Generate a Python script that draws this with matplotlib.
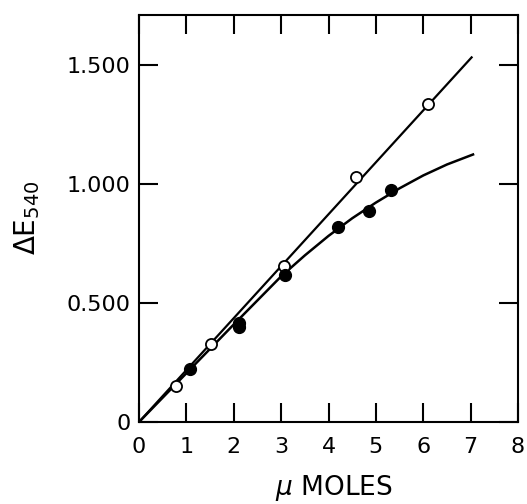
import matplotlib.pyplot as plt
import numpy as np

# open circles
x_open = [0.78, 1.52, 3.06, 4.59, 6.10]
y_open = [0.153, 0.328, 0.657, 1.031, 1.336]

# filled circles
x_fill = [1.08, 2.10, 2.12, 3.08, 4.19, 4.86, 5.32]
y_fill = [0.221, 0.400, 0.418, 0.618, 0.820, 0.887, 0.975]

# straight line through open circles
x_line = [0, 7.02]
y_line = [0, 1.532]

# curve through filled circles
x_curve = [0, 1.0, 2.0, 3.0, 3.5, 4.0, 4.5, 5.0, 5.5, 6.0, 6.5, 7.05]
y_curve = [0, 0.205, 0.41, 0.612, 0.70, 0.782, 0.856, 0.922, 0.982, 1.036, 1.082, 1.124]

plt.rcParams['font.family'] = ['DejaVu Sans']

fig = plt.figure(figsize=(5.27, 5.04), dpi=100)
ax = fig.add_axes([0.2638, 0.1627, 0.7192, 0.8075])

ax.plot(x_line, y_line, color='black', lw=1.6)
ax.plot(x_curve, y_curve, color='black', lw=1.8)
ax.plot(x_open, y_open, 'o', ms=8, mfc='white', mec='black', mew=1.3)
ax.plot(x_fill, y_fill, 'o', ms=8.5, color='black')

ax.set_xlim(0, 8)
ax.set_ylim(0, 1.71)
ax.set_xticks(range(0, 9))
ax.set_xticklabels([str(i) for i in range(0, 9)])
ax.set_yticks([0, 0.5, 1.0, 1.5])
ax.set_yticklabels(['0', '0.500', '1.000', '1.500'])
ax.tick_params(direction='in', length=14, width=1.5, top=True, right=True,
               labelsize=16)
ax.tick_params(axis='x', pad=11)
ax.tick_params(axis='y', pad=6)
for s in ax.spines.values():
    s.set_linewidth(1.5)

fig.text(334 / 527, 1 - 488 / 504, r'$\mu$ MOLES', fontsize=19,
         ha='center', va='center')
fig.text(27 / 527, 1 - 218 / 504, r'$\Delta$E$_{540}$', fontsize=20,
         ha='center', va='center', rotation=90)

fig.savefig('out.png', dpi=100)
